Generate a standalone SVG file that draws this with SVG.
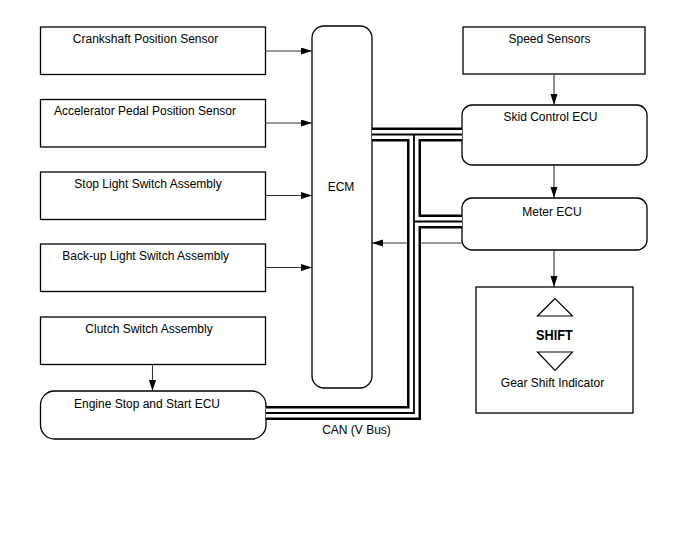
<svg xmlns="http://www.w3.org/2000/svg" width="688" height="560" viewBox="0 0 688 560">
<style>
.box{fill:#fff;stroke:#000;stroke-width:1.3}
.t{font-family:"Liberation Sans",Arial,sans-serif;font-size:12px;fill:#000;text-anchor:middle}
.sh{font-family:"Liberation Sans",Arial,sans-serif;font-size:15px;font-weight:bold;fill:#000;text-anchor:middle}
.ar{fill:none;stroke:#333;stroke-width:1.1;marker-end:url(#ah)}
.bo{fill:none;stroke:#000;stroke-width:14;stroke-linejoin:miter}
.bw{fill:none;stroke:#fff;stroke-width:9;stroke-linejoin:miter}
.bc{fill:none;stroke:#000;stroke-width:1.8;stroke-linejoin:miter}
.tri{fill:none;stroke:#000;stroke-width:1.2}
</style>
<defs>
<marker id="ah" markerUnits="userSpaceOnUse" markerWidth="12" markerHeight="8" refX="11" refY="3.5" orient="auto">
<path d="M0,0 L11,3.5 L0,7 Z" fill="#000"/>
</marker>
</defs>
<rect width="688" height="560" fill="#fff"/>

<g id="crankshaft"><rect class="box" x="40.5" y="27" width="225" height="47.5"/><text class="t" x="145.5" y="43">Crankshaft Position Sensor</text></g>
<g id="accelerator"><rect class="box" x="40.5" y="99.5" width="225" height="47.5"/><text class="t" x="145" y="115">Accelerator Pedal Position Sensor</text></g>
<g id="stoplight"><rect class="box" x="40.5" y="172" width="225" height="47.5"/><text class="t" x="148" y="188">Stop Light Switch Assembly</text></g>
<g id="backup"><rect class="box" x="40.5" y="244" width="225" height="47.5"/><text class="t" x="145.7" y="260">Back-up Light Switch Assembly</text></g>
<g id="clutch"><rect class="box" x="40.5" y="317" width="225" height="47.5"/><text class="t" x="149" y="333">Clutch Switch Assembly</text></g>
<g id="engine"><rect class="box" x="40.5" y="391" width="225.5" height="48" rx="14"/><text class="t" x="147" y="408">Engine Stop and Start ECU</text></g>
<g id="ecm"><rect class="box" x="312" y="26" width="60" height="362" rx="12"/><text class="t" x="341" y="191">ECM</text></g>
<g id="speed"><rect class="box" x="463" y="27" width="182" height="47"/><text class="t" x="549.5" y="43">Speed Sensors</text></g>
<g id="skid"><rect class="box" x="462" y="105" width="185" height="60" rx="10"/><text class="t" x="550.5" y="121">Skid Control ECU</text></g>
<g id="meter"><rect class="box" x="462" y="198" width="185" height="52" rx="10"/><text class="t" x="552" y="216">Meter ECU</text></g>
<g id="shift"><rect class="box" x="476" y="287" width="157" height="126"/>
<polygon class="tri" points="555,298.5 537.5,316 572.5,316"/>
<text class="sh" x="0" y="340" transform="translate(554.5,0) scale(0.85,1)">SHIFT</text>
<polygon class="tri" points="537.5,352 572.5,352 555,370.5"/>
<text class="t" x="552.5" y="387">Gear Shift Indicator</text></g>

<g id="connectors">
<path class="ar" d="M265.5,51 H312"/>
<path class="ar" d="M265.5,123 H312"/>
<path class="ar" d="M265.5,195.5 H312"/>
<path class="ar" d="M265.5,267.5 H312"/>
<path class="ar" d="M152.5,364.5 V391"/>
<path class="ar" d="M554,74 V105"/>
<path class="ar" d="M554,165 V198"/>
<path class="ar" d="M554,250 V287"/>
<path class="ar" d="M462,243 H372"/>
<g id="can-bus">
<path class="bo" d="M372,134.5 H462 M414,134.5 V413 H266 M414,221.5 H462"/>
<path class="bw" d="M372,134.5 H462 M414,134.5 V413 H266 M414,221.5 H462"/>
<path class="bc" d="M372,134.5 H462 M414,134.5 V413 H266 M414,221.5 H462"/>
</g>
<text class="t" x="356.5" y="434">CAN (V Bus)</text>
</g>
</svg>
